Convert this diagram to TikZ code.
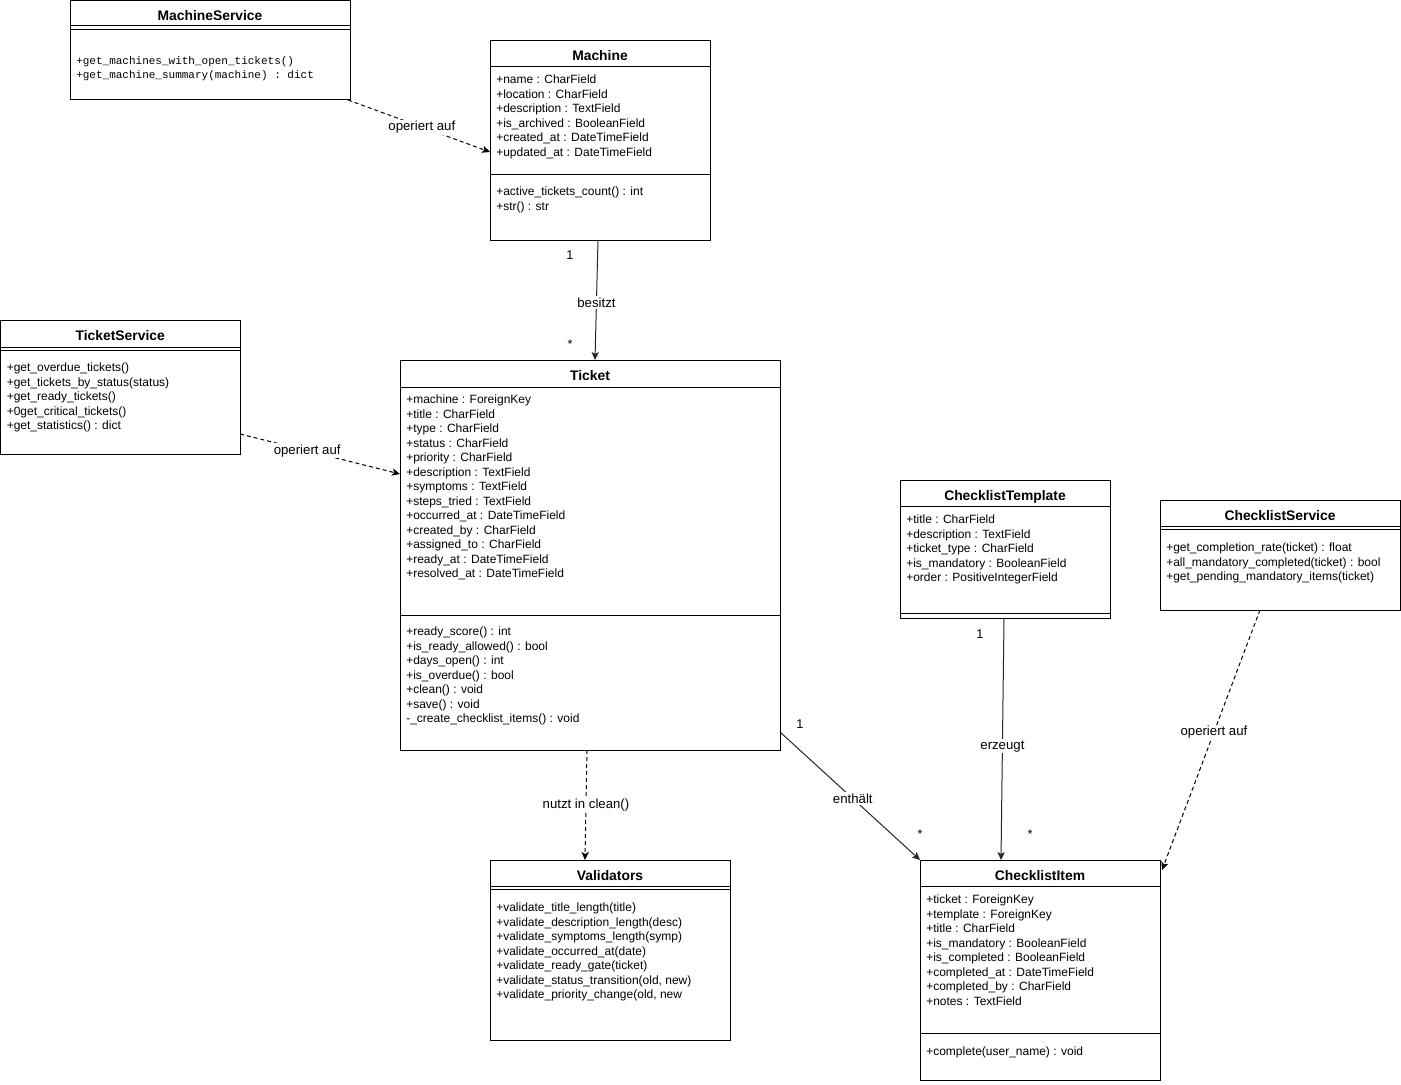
\documentclass[tikz,border=0pt]{standalone}
\usepackage{fontspec}
\setmainfont{Liberation Sans}
\setmonofont{Liberation Mono}
\usetikzlibrary{arrows.meta,calc}
\begin{document}
\begin{tikzpicture}[x=0.75pt,y=-0.75pt,
  box/.style={draw=black, line width=0.75pt, inner sep=0, outer sep=0, anchor=north west},
  ttl/.style={font=\bfseries\fontsize{10.4}{12}\selectfont, anchor=base, inner sep=0},
  txt/.style={font=\fontsize{9}{10.85}\selectfont, align=left, anchor=north west, inner sep=0},
  mono/.style={font=\ttfamily\fontsize{8.25}{10.5}\selectfont, align=left, anchor=north west, inner sep=0},
  sepline/.style={line width=0.75pt},
  tip/.style={-{Stealth[length=6pt,width=5.5pt,inset=1.5pt]}},
  assoc/.style={line width=0.75pt, draw=black!85, tip},
  dep/.style={line width=0.75pt, draw=black, dash pattern=on 3pt off 2.25pt, tip},
  lbl/.style={font=\fontsize{9.9}{11.5}\selectfont, fill=white, inner sep=1pt},
  mult/.style={font=\fontsize{9.5}{11}\selectfont, inner sep=0}]
\useasboundingbox (0,0) rectangle (1401,1084);

% ---------- MachineService ----------
\node[box, minimum width=210pt, minimum height=74.25pt] (ms) at (70,1) {};
\node[ttl] (msT) at ($(ms.north)+(0,20)$) {MachineService};
\draw[sepline] ($(ms.north west)+(0,25)$) -- ($(ms.north east)+(0,25)$);
\draw[sepline] ($(ms.north west)+(0,29)$) -- ($(ms.north east)+(0,29)$);
\node[mono] (msM) at ($(ms.north west)+(6,55.5)$) {+get\_machines\_with\_open\_tickets()\\+get\_machine\_summary(machine) : dict};

% ---------- Machine ----------
\node[box, minimum width=165pt, minimum height=149.25pt] (machine) at (490,41) {};
\node[ttl] (machineT) at ($(machine.north)+(0,20)$) {Machine};
\draw[sepline] ($(machine.north west)+(0,26)$) -- ($(machine.north east)+(0,26)$);
\node[txt] (machineA) at ($(machine.north west)+(6,34)$) {+name : CharField\\+location : CharField\\+description : TextField\\+is\_archived : BooleanField\\+created\_at : DateTimeField\\+updated\_at : DateTimeField};
\draw[sepline] ($(machine.north west)+(0,134)$) -- ($(machine.north east)+(0,134)$);
\node[txt] (machineM) at ($(machine.north west)+(6,146)$) {+active\_tickets\_count() : int\\+str() : str};

% ---------- TicketService ----------
\node[box, minimum width=179.625pt, minimum height=100.5pt] (ts) at (0.5,320) {};
\node[ttl] (tsT) at ($(ts.north)+(0,20.5)$) {TicketService};
\draw[sepline] ($(ts.north west)+(0,27)$) -- ($(ts.north east)+(0,27)$);
\draw[sepline] ($(ts.north west)+(0,30)$) -- ($(ts.north east)+(0,30)$);
\node[txt] (tsM) at ($(ts.north west)+(6,43)$) {+get\_overdue\_tickets()\\+get\_tickets\_by\_status(status)\\+get\_ready\_tickets()\\+0get\_critical\_tickets()\\+get\_statistics() : dict};

% ---------- Ticket ----------
\node[box, minimum width=285pt, minimum height=292.5pt] (ticket) at (400,360) {};
\node[ttl] (ticketT) at ($(ticket.north)+(0,20.5)$) {Ticket};
\draw[sepline] ($(ticket.north west)+(0,27)$) -- ($(ticket.north east)+(0,27)$);
\node[txt] (ticketA) at ($(ticket.north west)+(6,35)$) {+machine : ForeignKey\\+title : CharField\\+type : CharField\\+status : CharField\\+priority : CharField\\+description : TextField\\+symptoms : TextField\\+steps\_tried : TextField\\+occurred\_at : DateTimeField\\+created\_by : CharField\\+assigned\_to : CharField\\+ready\_at : DateTimeField\\+resolved\_at : DateTimeField};
\draw[sepline] ($(ticket.north west)+(0,255)$) -- ($(ticket.north east)+(0,255)$);
\node[txt] (ticketM) at ($(ticket.north west)+(6,267)$) {+ready\_score() : int\\+is\_ready\_allowed() : bool\\+days\_open() : int\\+is\_overdue() : bool\\+clean() : void\\+save() : void\\-\_create\_checklist\_items() : void};

% ---------- ChecklistTemplate ----------
\node[box, minimum width=157.5pt, minimum height=103.5pt] (tmpl) at (900,480) {};
\node[ttl] (tmplT) at ($(tmpl.north)+(0,20.5)$) {ChecklistTemplate};
\draw[sepline] ($(tmpl.north west)+(0,26.5)$) -- ($(tmpl.north east)+(0,26.5)$);
\node[txt] (tmplA) at ($(tmpl.north west)+(6,35)$) {+title : CharField\\+description : TextField\\+ticket\_type : CharField\\+is\_mandatory : BooleanField\\+order : PositiveIntegerField};
\draw[sepline] ($(tmpl.north west)+(0,133.5)$) -- ($(tmpl.north east)+(0,133.5)$);

% ---------- ChecklistService ----------
\node[box, minimum width=180pt, minimum height=82.5pt] (cs) at (1160,500) {};
\node[ttl] (csT) at ($(cs.north)+(0,20.5)$) {ChecklistService};
\draw[sepline] ($(cs.north west)+(0,26)$) -- ($(cs.north east)+(0,26)$);
\draw[sepline] ($(cs.north west)+(0,29)$) -- ($(cs.north east)+(0,29)$);
\node[txt] (csM) at ($(cs.north west)+(6,43)$) {+get\_completion\_rate(ticket) : float\\+all\_mandatory\_completed(ticket) : bool\\+get\_pending\_mandatory\_items(ticket)};

% ---------- Validators ----------
\node[box, minimum width=180pt, minimum height=135pt] (val) at (490,860) {};
\node[ttl] (valT) at ($(val.north)+(0,20.5)$) {Validators};
\draw[sepline] ($(val.north west)+(0,26.5)$) -- ($(val.north east)+(0,26.5)$);
\draw[sepline] ($(val.north west)+(0,29.5)$) -- ($(val.north east)+(0,29.5)$);
\node[txt] (valM) at ($(val.north west)+(6,43)$) {+validate\_title\_length(title)\\+validate\_description\_length(desc)\\+validate\_symptoms\_length(symp)\\+validate\_occurred\_at(date)\\+validate\_ready\_gate(ticket)\\+validate\_status\_transition(old, new)\\+validate\_priority\_change(old, new};

% ---------- ChecklistItem ----------
\node[box, minimum width=180pt, minimum height=165pt] (item) at (920,860) {};
\node[ttl] (itemT) at ($(item.north)+(0,20.5)$) {ChecklistItem};
\draw[sepline] ($(item.north west)+(0,26)$) -- ($(item.north east)+(0,26)$);
\node[txt] (itemA) at ($(item.north west)+(6,35)$) {+ticket : ForeignKey\\+template : ForeignKey\\+title : CharField\\+is\_mandatory : BooleanField\\+is\_completed : BooleanField\\+completed\_at : DateTimeField\\+completed\_by : CharField\\+notes : TextField};
\draw[sepline] ($(item.north west)+(0,173.5)$) -- ($(item.north east)+(0,173.5)$);
\node[txt] (itemM) at ($(item.north west)+(6,187)$) {+complete(user\_name) : void};

% ---------- Connectors ----------
\draw[dep] ($(ms.north west)+(278,99)$) -- node[lbl, pos=0.52] (l1) {operiert auf} ($(machine.north west)+(0,111)$);
\draw[dep] ($(ts.north west)+(239.5,114)$) -- node[lbl, pos=0.42] (l2) {operiert auf} ($(ticket.north west)+(0,114)$);
\draw[assoc] ($(machine.north west)+(108,199)$) -- node[lbl, pos=0.52] (l3) {besitzt} ($(ticket.north west)+(195,0)$);
\node[mult] (m1a) at (570,255) {1};
\node[mult] (m1b) at (570,344) {*};
\draw[dep] ($(ticket.north west)+(187,390)$) -- node[lbl, pos=0.5] (l4) {nutzt in clean()} ($(val.north west)+(95,0)$);
\draw[assoc] ($(ticket.north west)+(380,372)$) -- node[lbl, pos=0.52] (l5) {enthält} ($(item.north west)+(0,0)$);
\node[mult] (m2a) at (800,724) {1};
\node[mult] (m2b) at (920,834) {*};
\draw[assoc] ($(tmpl.north west)+(104,138)$) -- node[lbl, pos=0.53] (l6) {erzeugt} ($(item.north west)+(81,0)$);
\node[mult] (m3a) at (980,634) {1};
\node[mult] (m3b) at (1030,834) {*};
\draw[dep] ($(cs.north west)+(100,110)$) -- node[lbl, pos=0.47] (l7) {operiert auf} ($(item.north west)+(242,10)$);
\end{tikzpicture}
\end{document}
